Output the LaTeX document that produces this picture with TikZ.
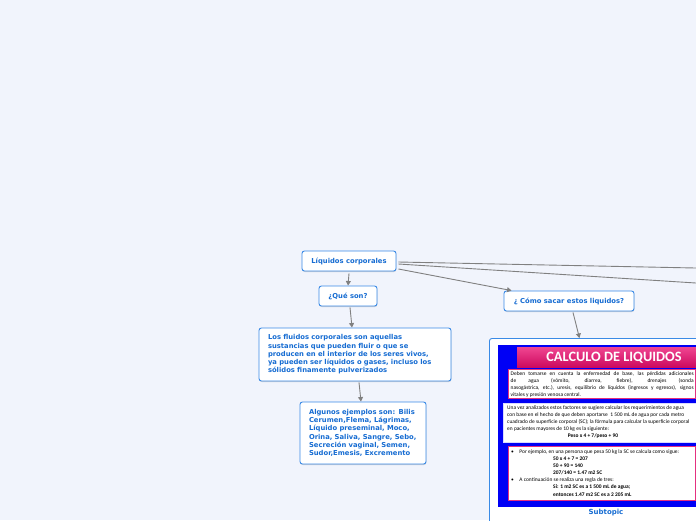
\documentclass[tikz,border=0pt]{standalone}
\usepackage{fontspec}
\setmainfont{DejaVu Sans}
\newfontfamily\calfont{Carlito}
\usetikzlibrary{arrows.meta,shadows}

\definecolor{bgpaper}{RGB}{241,244,252}
\definecolor{nodeline}{RGB}{58,138,230}
\definecolor{nodetext}{RGB}{22,108,210}
\definecolor{linkgray}{RGB}{128,128,128}
\definecolor{imgblue}{RGB}{0,0,245}
\definecolor{pinkline}{RGB}{228,48,128}
\definecolor{barpink}{RGB}{240,70,145}
\definecolor{bardark}{RGB}{205,10,95}

\tikzset{
  topic/.style={draw=nodeline, line width=0.9pt, rounded corners=2.5pt, fill=white,
    text=nodetext, font=\bfseries\fontsize{6.8}{8.3}\selectfont, align=left, inner sep=0pt,
    drop shadow={shadow xshift=0.4pt, shadow yshift=-1pt, opacity=0.15, fill=black}},
  link/.style={draw=linkgray, line width=0.9pt},
  imgbox/.style={fill=white, line width=1.2pt, inner sep=0pt, anchor=north west},
  imgtext/.style={font=\calfont\fontsize{5.45}{7.1}\selectfont, text=black, inner sep=0pt,
    anchor=north west, align=left}
}

\begin{document}
\begin{tikzpicture}[x=1pt, y=-1pt, >={Triangle[width=5pt,length=4.5pt]}]
  \useasboundingbox (0,0) rectangle (696,520);
  \fill[bgpaper] (0,0) rectangle (696,520);
  \clip (0,0) rectangle (696,520);

  % Central topic
  \node[topic, minimum width=94pt, minimum height=20pt] (root) at (349,261) {Líquidos corporales};

  % Left branch
  \node[topic, minimum width=58pt, minimum height=20pt] (que) at (348,296) {¿Qué son?};
  \node[topic, text width=174pt, inner xsep=9pt, minimum height=53pt] (def) at (355,354.5)
    {Los fluidos corporales son aquellas\\
     sustancias que pueden fluir o que se\\
     producen en el interior de los seres vivos,\\
     ya pueden ser líquidos o gases, incluso los\\
     sólidos finamente pulverizados};
  \node[topic, text width=108pt, inner xsep=9pt, minimum height=62pt] (ejemplos) at (363,433)
    {Algunos ejemplos son: Bilis\\
     Cerumen,Flema, Lágrimas,\\
     Líquido preseminal, Moco,\\
     Orina, Saliva, Sangre, Sebo,\\
     Secreción vaginal, Semen,\\
     Sudor,Emesis, Excremento};

  % Right branch
  \node[topic, minimum width=130pt, minimum height=20pt] (como) at (569,301) {¿ Cómo sacar estos liquidos?};
  \node[topic, minimum width=234pt, minimum height=186pt, anchor=north west] (calc) at (489,338) {};

  % Branches leaving the page
  \coordinate (offa) at (760,269.3);
  \coordinate (offb) at (760,287.1);

  % Connectors
  \draw[link] ([xshift=2pt,yshift=-1pt]root.east) -- (offa);
  \draw[link] ([xshift=2pt,yshift=-3pt]root.east) -- (offb);
  \draw[link,->] ([xshift=2pt,yshift=-8pt]root.east) -- ([xshift=8pt]como.north west);
  \draw[link,->] ([yshift=-2pt]root.south) -- (que.north);
  \draw[link,->] ([xshift=2pt,yshift=-1pt]que.south) -- ([xshift=-3pt]def.north);
  \draw[link,->] ([xshift=4pt,yshift=-1pt]def.south) -- ([xshift=-2pt]ejemplos.north);
  \draw[link,->] ([xshift=4pt,yshift=-1pt]como.south) -- ([xshift=-27pt]calc.north);

  % Picture inside the subtopic
  \fill[imgblue] (498,345) rectangle (716,507);
  \shade[top color=barpink, bottom color=bardark] (517,347) rectangle (712,367);
  \node[font=\calfont\bfseries\fontsize{14.3}{15}\selectfont, text=white] (titulo) at (614,357.5) {CALCULO DE LIQUIDOS};

  \node[imgbox, draw=pinkline, minimum width=187pt, minimum height=29pt] (caja1) at (508,369) {};
  \node[imgtext] (texto1) at (510.5,371.5)
    {\makebox[183pt][s]{Deben tomarse en cuenta la enfermedad de base, las pérdidas adicionales}\\
     \makebox[183pt][s]{de agua (vómito, diarrea, fiebre), drenajes (sonda}\\
     \makebox[183pt][s]{nasogástrica, etc.), uresis, equilibrio de líquidos (ingresos y egresos), signos}\\
     vitales y presión venosa central.};

  \node[imgbox, draw=blue!15, minimum width=194pt, minimum height=39pt] (caja2) at (503,403) {};
  \node[imgtext] (texto2) at (507,405.5)
    {Una vez analizados estos factores se sugiere calcular los requerimientos de agua\\
     con base en el hecho de que deben aportarse \ 1 500 mL de agua por cada metro\\
     cuadrado de superficie corporal (SC); la fórmula para calcular la superficie corporal\\
     en pacientes mayores de 10 kg es la siguiente:};
  \node[font=\calfont\bfseries\fontsize{5.45}{6}\selectfont, inner sep=0pt] (formula) at (593,436.5) {Peso x 4 + 7/peso + 90};

  \node[imgbox, draw=pinkline, minimum width=187pt, minimum height=54pt] (caja3) at (508,446) {};
  \node[imgtext] (texto3) at (511,449.5)
    {\textbullet\hspace*{5.5pt}Por ejemplo, en una persona que pesa 50 kg la SC se calcula como sigue:\\
     \hspace*{42pt}\textbf{50 x 4 + 7 = 207}\\
     \hspace*{42pt}\textbf{50 + 90 = 140}\\
     \hspace*{42pt}\textbf{207/140 = 1.47 m2 SC}\\
     \textbullet\hspace*{5.5pt}A continuación se realiza una regla de tres:\\
     \hspace*{42pt}\textbf{Si: 1 m2 SC es a 1 500 mL de agua;}\\
     \hspace*{42pt}\textbf{entonces 1.47 m2 SC es a 2 205 mL}};

  \node[font=\bfseries\fontsize{7}{8}\selectfont, text=nodetext, inner sep=0pt] (sub) at (606,512.5) {Subtopic};
\end{tikzpicture}
\end{document}
